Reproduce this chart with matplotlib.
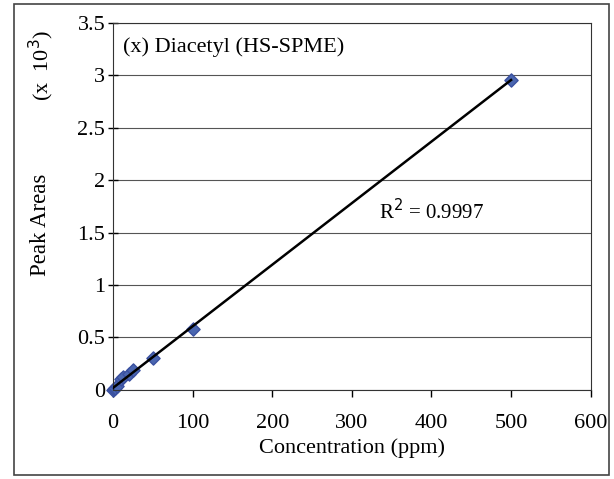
import matplotlib.pyplot as plt
import numpy as np
from matplotlib.patches import Rectangle

plt.rcParams["font.family"] = ["Liberation Serif", "DejaVu Serif"]

# calibration data
conc = [0, 1, 2, 5, 10, 12, 20, 25, 50, 100, 500]
area = [0.0, 0.01, 0.02, 0.04, 0.10, 0.12, 0.15, 0.19, 0.30, 0.58, 2.96]
r2_text = "R$^2$ = 0.9997"
xticks = [0, 100, 200, 300, 400, 500, 600]
yticks = [0, 0.5, 1, 1.5, 2, 2.5, 3, 3.5]

fig = plt.figure(figsize=(6.14, 4.79), dpi=100)
ax = fig.add_axes([0.184, 0.186, 0.778, 0.766])

# regression line over the data range
slope, icpt = np.polyfit(conc, area, 1)
xl = np.array([min(conc), max(conc)])
ax.plot(xl, slope * xl + icpt, color="black", lw=1.8, zorder=3)
ax.scatter(conc, area, marker="D", s=45, color="#4a66b0", edgecolor="#3a50a0",
           zorder=2, clip_on=False)

ax.set_xlim(0, 600)
ax.set_ylim(0, 3.5)
ax.set_xticks(xticks)
ax.set_yticks(yticks)
ax.set_yticklabels([f"{v:g}" for v in yticks])
ax.yaxis.grid(True, color="#555555", lw=0.8)
ax.set_axisbelow(True)
ax.tick_params(labelsize=16, width=1)
ax.tick_params(axis="x", direction="out", length=5, pad=12)
ax.tick_params(axis="y", direction="inout", length=7, pad=2)
for s in ax.spines.values():
    s.set_color("#333333")

ax.set_xlabel("Concentration (ppm)", fontsize=16, labelpad=4)
# y label is split in two pieces like the original
fig.text(40 / 614, 1 - 225 / 479, "Peak Areas", rotation=90, fontsize=16.5,
         ha="center", va="center")
fig.text(41 / 614, 1 - 65 / 479, "(x  10$^3$)", rotation=90, fontsize=16,
         ha="center", va="center")
ax.text(0.022, 0.935, "(x) Diacetyl (HS-SPME)", transform=ax.transAxes,
        fontsize=16, va="center", ha="left")
ax.text(334, 1.70, r2_text, fontsize=15, va="center", ha="left")

# outer frame around the chart
fig.patches.append(Rectangle((14 / 614, 4 / 479), 595 / 614, 471 / 479,
                             transform=fig.transFigure, fill=False,
                             edgecolor="#444444", lw=1.2))

fig.savefig("out.png", dpi=100)
